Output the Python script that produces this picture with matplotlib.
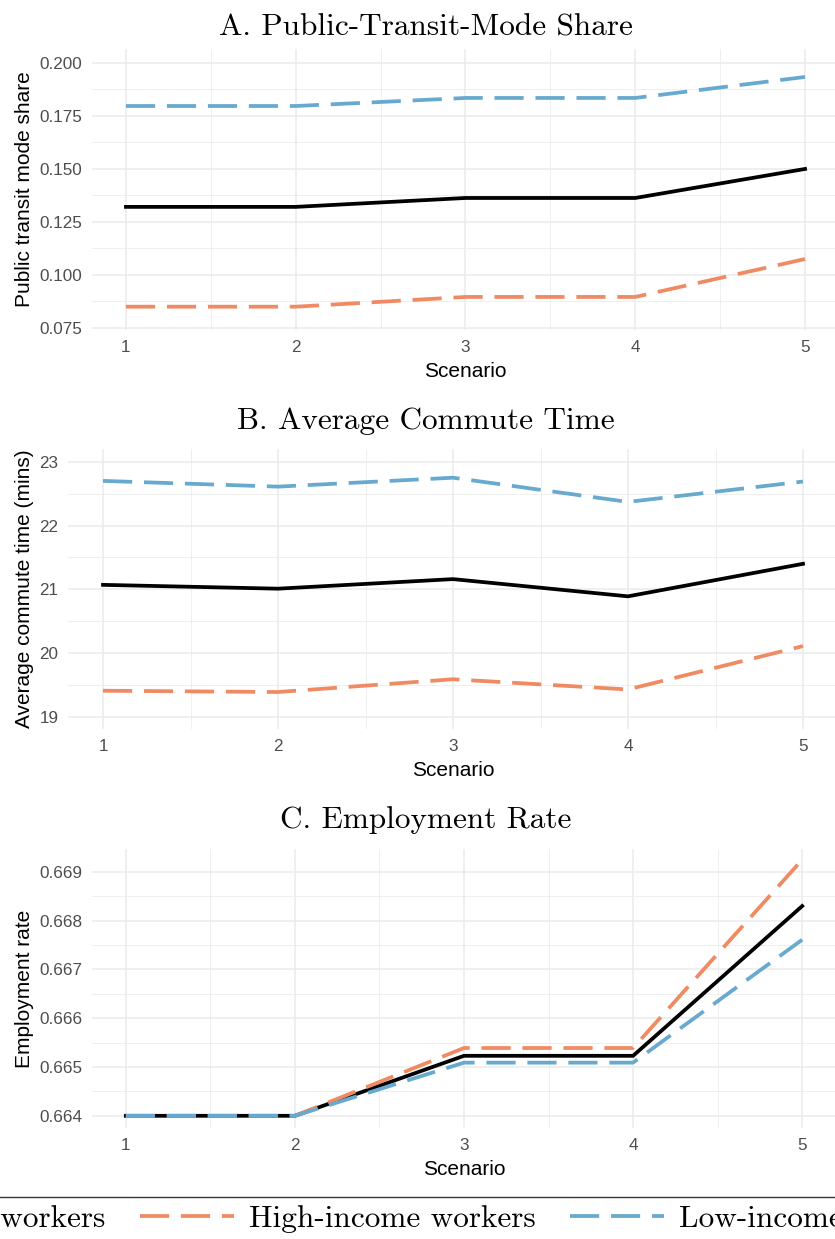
import numpy as np
import matplotlib
matplotlib.use("Agg")
import matplotlib.pyplot as plt
from matplotlib.lines import Line2D

# data
scenarios = [1, 2, 3, 4, 5]

share_all = [0.1321, 0.1321, 0.1363, 0.1363, 0.1500]
share_high = [0.0850, 0.0850, 0.0896, 0.0896, 0.1075]
share_low = [0.1797, 0.1797, 0.1835, 0.1835, 0.1934]

time_all = [21.07, 21.01, 21.16, 20.89, 21.40]
time_high = [19.41, 19.39, 19.59, 19.43, 20.11]
time_low = [22.70, 22.61, 22.75, 22.37, 22.69]

emp_all = [0.6640, 0.6640, 0.66523, 0.66523, 0.66830]
emp_high = [0.6640, 0.6640, 0.66539, 0.66539, 0.66925]
emp_low = [0.6640, 0.6640, 0.66509, 0.66509, 0.66761]

series_names = ["All workers", "High-income workers", "Low-income workers"]
colors = ["black", "#EF8A62", "#67A9CF"]

plt.rcParams["lines.scale_dashes"] = False
W, H = 835, 1239
fig = plt.figure(figsize=(W / 100, H / 100), dpi=100)


def px_axes(left, top, right, bottom):
    return fig.add_axes([left / W, 1 - bottom / H, (right - left) / W, (bottom - top) / H])


def panel(ax, ys, ylim, yticks, fmt, ylabel, title, title_y):
    for i, (y, c) in enumerate(zip(ys, colors)):
        if i == 0:
            ax.plot(scenarios, y, color=c, lw=2.7, solid_joinstyle="miter", label=series_names[i], zorder=3)
        else:
            ax.plot(scenarios, y, color=c, lw=2.7, dashes=(21, 8.5), label=series_names[i], zorder=3)
    ax.set_xlim(0.8, 5.2)
    ax.set_xticks(scenarios)
    ax.set_xticks([1.5, 2.5, 3.5, 4.5], minor=True)
    ax.set_yticks(yticks)
    step = yticks[1] - yticks[0]
    ax.set_yticks([t + step / 2 for t in yticks], minor=True)
    ax.set_yticklabels([fmt.format(t) for t in yticks])
    ax.set_ylim(*ylim)
    ax.grid(which="major", color="#EBEBEB", lw=1.1)
    ax.grid(which="minor", color="#EBEBEB", lw=0.55)
    ax.tick_params(which="both", length=0, labelsize=12.3, labelcolor="#4D4D4D", pad=7)
    for s in ax.spines.values():
        s.set_visible(False)
    ax.set_xlabel("Scenario", fontsize=15, family="Liberation Sans", labelpad=5)
    ax.set_ylabel(ylabel, fontsize=15, family="Liberation Sans", labelpad=4)
    for lab in ax.get_xticklabels() + ax.get_yticklabels():
        lab.set_family("Liberation Sans")
    fig.text(426 / W, 1 - title_y / H, title, family="cmr10", fontsize=22.5, ha="center", va="center")


ax1 = px_axes(92, 49, 839, 330)
panel(ax1, [share_all, share_high, share_low], (0.074, 0.2066),
      [0.075, 0.100, 0.125, 0.150, 0.175, 0.200], "{:.3f}",
      "Public transit mode share", "A. Public-Transit-Mode Share", 28)

ax2 = px_axes(68, 449, 838, 729)
panel(ax2, [time_all, time_high, time_low], (18.81, 23.2),
      [19, 20, 21, 22, 23], "{:.0f}",
      "Average commute time (mins)", "B. Average Commute Time", 421)

ax3 = px_axes(92, 849, 836, 1128)
panel(ax3, [emp_all, emp_high, emp_low], (0.66375, 0.66947),
      [0.664, 0.665, 0.666, 0.667, 0.668, 0.669], "{:.3f}",
      "Employment rate", "C. Employment Rate", 820)

fig.add_artist(Line2D([0, 1], [1 - 1197 / H, 1 - 1197 / H], color="#333333", lw=1.0))

handles, labels = ax1.get_legend_handles_labels()
fig.legend(handles, labels, loc="center", bbox_to_anchor=(0.478, 1 - 1219 / H), ncol=3,
           frameon=False, prop={"family": "cmr10", "size": 22.5}, handlelength=3.0,
           columnspacing=1.1, handletextpad=0.48)

fig.savefig("out.png", dpi=100)
